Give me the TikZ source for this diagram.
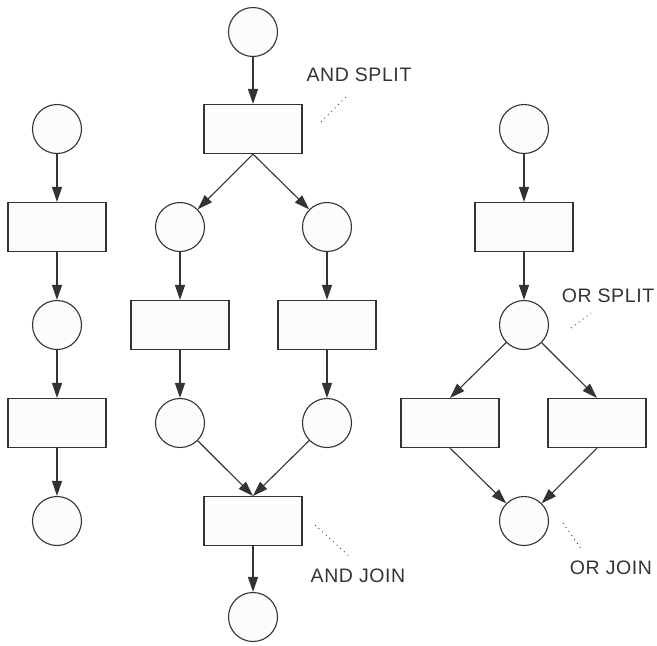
\documentclass[tikz,border=0pt]{standalone}
\usepackage{fontspec}
\setmainfont{Liberation Sans}[LetterSpace=3]
\usetikzlibrary{arrows.meta}
\definecolor{ink}{HTML}{333333}
\definecolor{paper}{HTML}{FCFCFC}
\begin{document}
\begin{tikzpicture}[x=1pt,y=-1pt,
  place/.style={circle,draw=ink,fill=paper,line width=1.1pt,minimum size=49pt,inner sep=0pt},
  trans/.style={rectangle,draw=ink,fill=paper,line width=1.1pt,minimum width=98pt,minimum height=49pt,inner sep=0pt},
  arc/.style={draw=ink,line width=1.1pt,-{Triangle[length=15pt,width=10pt]}},
  note/.style={draw=ink,line width=0.9pt,dash pattern=on 0.9pt off 4pt},
  lbl/.style={text=ink,font=\fontsize{19.5}{22}\selectfont,inner sep=0pt}]
\useasboundingbox (0,0) rectangle (657,646);
% left chain
\node[place] (a1) at (57,129) {};
\node[trans] (a2) at (57,227) {};
\node[place] (a3) at (57,325) {};
\node[trans] (a4) at (57,423) {};
\node[place] (a5) at (57,521) {};
\draw[arc] (a1) -- (a2);
\draw[arc] (a2) -- (a3);
\draw[arc] (a3) -- (a4);
\draw[arc] (a4) -- (a5);
% middle AND
\node[place] (m0) at (253,32) {};
\node[trans] (m1) at (253,129) {};
\node[place] (m2) at (180,227) {};
\node[place] (m3) at (327,227) {};
\node[trans] (m4) at (180,325) {};
\node[trans] (m5) at (327,325) {};
\node[place] (m6) at (180,423) {};
\node[place] (m7) at (327,423) {};
\node[trans] (m8) at (253,521) {};
\node[place] (m9) at (253,617) {};
\draw[arc] (m0) -- (m1);
\draw[arc] (m1.south) -- (m2);
\draw[arc] (m1.south) -- (m3);
\draw[arc] (m2) -- (m4);
\draw[arc] (m3) -- (m5);
\draw[arc] (m4) -- (m6);
\draw[arc] (m5) -- (m7);
\draw[arc] (m6) -- (m8.north);
\draw[arc] (m7) -- (m8.north);
\draw[arc] (m8) -- (m9);
% right OR
\node[place] (r0) at (524,129) {};
\node[trans] (r1) at (524,227) {};
\node[place] (r2) at (524,325) {};
\node[trans] (r3) at (450,423) {};
\node[trans] (r4) at (597,423) {};
\node[place] (r5) at (524,521) {};
\draw[arc] (r0) -- (r1);
\draw[arc] (r1) -- (r2);
\draw[arc] (r2) -- (r3.north);
\draw[arc] (r2) -- (r4.north);
\draw[arc] (r3.south) -- (r5);
\draw[arc] (r4.south) -- (r5);
% labels
\node[lbl] (t1) at (359,75) {AND SPLIT};
\node[lbl] (t2) at (608,296) {OR SPLIT};
\node[lbl] (t3) at (358,576) {AND JOIN};
\node[lbl] (t4) at (611,568) {OR JOIN};
\coordinate (d1a) at (321,122); \coordinate (d1b) at (348,95);
\coordinate (d2a) at (571,328); \coordinate (d2b) at (591,313);
\coordinate (d3a) at (315,525); \coordinate (d3b) at (350,557);
\coordinate (d4a) at (563,523); \coordinate (d4b) at (582,550);
\draw[note] (d1a) -- (d1b);
\draw[note] (d2a) -- (d2b);
\draw[note] (d3a) -- (d3b);
\draw[note] (d4a) -- (d4b);
\end{tikzpicture}
\end{document}
